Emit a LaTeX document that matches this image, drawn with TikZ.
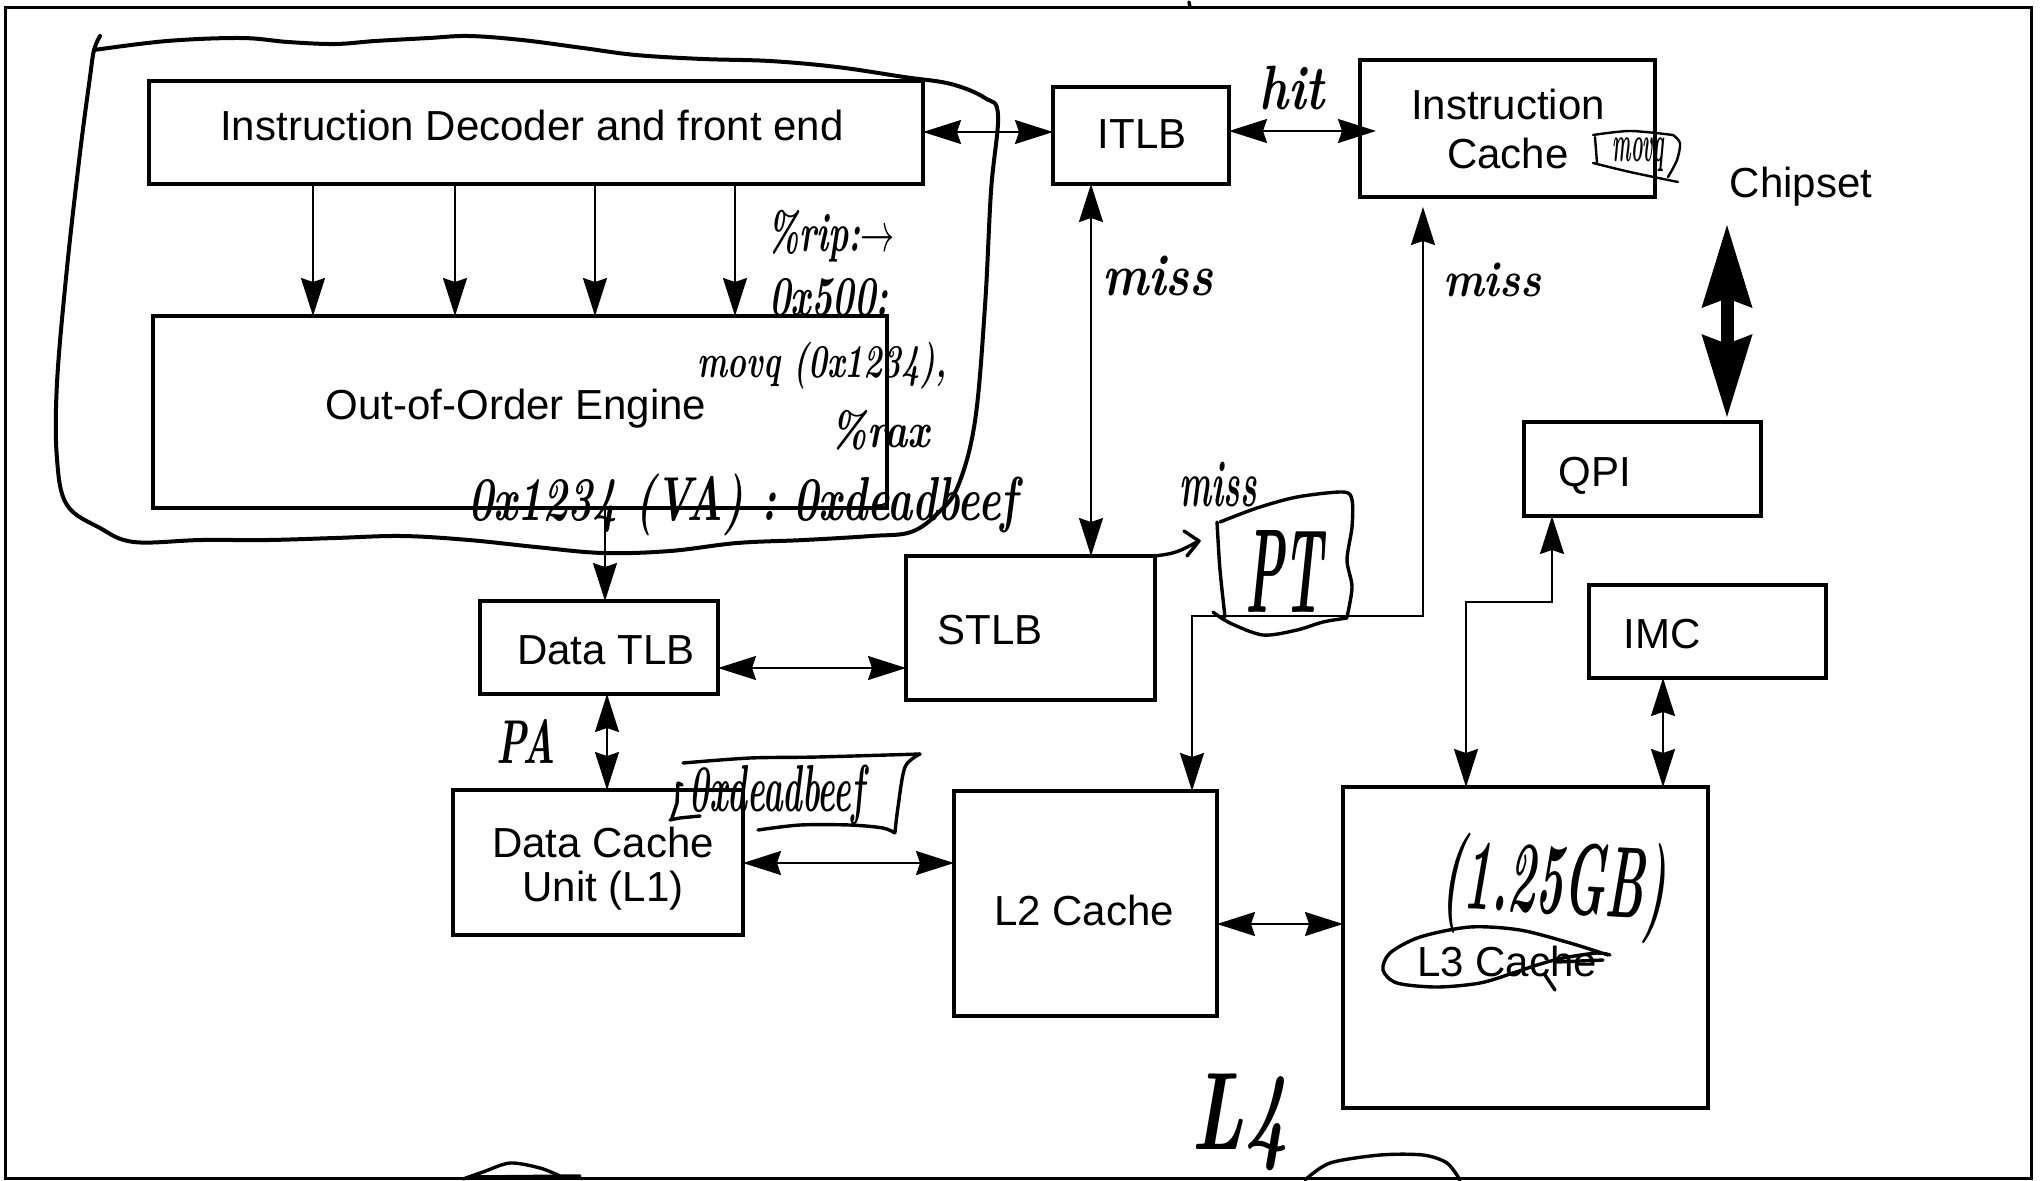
\documentclass[tikz,border=0pt]{standalone}
\usepackage{fontspec}
\newfontfamily\lblfamily{Liberation Sans}
\usetikzlibrary{arrows.meta}
\newcommand\hw[3]{\resizebox*{#1pt}{#2pt}{\normalfont\bfseries\itshape #3}}
\begin{document}
\begin{tikzpicture}[x=0.5pt, y=-0.5pt,
  box/.style={draw, line width=1.75pt, inner sep=0pt, outer sep=0pt},
  lbl/.style={font=\lblfamily\fontsize{21}{25}\selectfont, inner sep=0pt, anchor=base},
  tip/.tip={Stealth[length=19pt,width=12pt,inset=2pt]},
  arr/.style={line width=1pt, -tip},
  darr/.style={line width=1pt, tip-tip},
  bigarr/.style={line width=6.5pt, {Stealth[length=41pt,width=24pt,inset=4pt]}-{Stealth[length=41pt,width=24pt,inset=4pt]}},
  pen/.style={line width=1.7pt, line cap=round, line join=round},
  thinpen/.style={line width=1.2pt, line cap=round, line join=round},
  hand/.style={inner sep=0pt, outer sep=0pt}
]
\useasboundingbox (0,0) rectangle (2040,1180);
\fill[white] (0,0) rectangle (2040,1180);
% frame
\draw[line width=1.5pt] (5,7) rectangle (2031,1178);
\draw[pen] (1189,2) -- (1190,7);

% boxes
\node[box, minimum width=387pt, minimum height=51.5pt] (dec) at (536,132.5) {};
\node[box, minimum width=367pt, minimum height=96pt] (ooo) at (520,412) {};
\node[box, minimum width=119pt, minimum height=46.5pt] (dtlb) at (599,647.5) {};
\node[box, minimum width=124.5pt, minimum height=72pt] (stlb) at (1030.5,628) {};
\node[box, minimum width=145pt, minimum height=72.5pt] (dcu) at (598,862.5) {};
\node[box, minimum width=131.5pt, minimum height=112.5pt] (l2) at (1085.5,903.5) {};
\node[box, minimum width=182.5pt, minimum height=160.5pt] (l3) at (1525.5,947.5) {};
\node[box, minimum width=88pt, minimum height=48.5pt] (itlb) at (1141,135.5) {};
\node[box, minimum width=147.5pt, minimum height=68.5pt] (ic) at (1507.5,128.5) {};
\node[box, minimum width=118.5pt, minimum height=47pt] (qpi) at (1642.5,469) {};
\node[box, minimum width=118.5pt, minimum height=46.5pt] (imc) at (1707.5,631.5) {};

% labels
\node[lbl] (tdec) at (532,140) {Instruction Decoder and front end};
\node[lbl] (tooo) at (516,419) {Out-of-Order Engine};
\node[lbl] (titlb) at (1142,148) {ITLB};
\node[lbl] (tic1) at (1508,119) {Instruction};
\node[lbl] (tic2) at (1508,168) {Cache};
\node[lbl] (chip) at (1801,197) {Chipset};
\node[lbl] (tqpi) at (1595,486) {QPI};
\node[lbl] (tdtlb) at (606,664) {Data TLB};
\node[lbl] (tstlb) at (990,644) {STLB};
\node[lbl] (tdcu1) at (603,857) {Data Cache};
\node[lbl] (tdcu2) at (603,901) {Unit (L1)};
\node[lbl] (tl2) at (1084,925) {L2 Cache};
\node[lbl] (tl3) at (1507,976) {L3 Cache};
\node[lbl] (timc) at (1662,648) {IMC};

% connectors
\foreach \xx in {313,455,595,735}
  \draw[arr] (dec.south -| \xx,0) -- (ooo.north -| \xx,0);
\draw[arr] (ooo.south -| 605,0) -- (dtlb.north -| 605,0);
\draw[darr] (dec.east |- 0,132) -- (itlb.west |- 0,132);
\draw[darr, shorten >=-8pt] (itlb.east |- 0,131) -- (ic.west |- 0,131);
\draw[darr] (itlb.south -| 1091,0) -- (stlb.north -| 1091,0);
\draw[darr] (dtlb.east |- 0,668) -- (stlb.west |- 0,668);
\draw[darr] (dtlb.south -| 607,0) -- (dcu.north -| 607,0);
\draw[darr] (dcu.east |- 0,863) -- (l2.west |- 0,863);
\draw[darr] (l2.east |- 0,924) -- (l3.west |- 0,924);
\draw[darr, shorten <=5pt] (ic.south -| 1423,0) |- (1192,616) -- (l2.north -| 1192,0);
\draw[darr] (qpi.south -| 1552,0) |- (1466,602) -- (l3.north -| 1466,0);
\draw[darr] (imc.south -| 1663,0) -- (l3.north -| 1663,0);
\draw[bigarr, shorten <=9pt, shorten >=2pt] (chip.south -| 1727,0) -- (qpi.north -| 1727,0);

% handwritten loop round the front end
\draw[pen, line width=2pt] plot[smooth, tension=0.6] coordinates {(94,50) (167,41) (241,38) (288,42) (335,44) (375,41) (429,38) (469,36) (522,40) (583,48) (636,55) (703,59) (770,61) (837,67) (904,77) (951,84) (985,98) (998,115) (991,191) (985,306) (975,421) (958,486) (938,513) (911,532) (871,536) (804,540) (737,543) (670,551) (603,553) (536,547) (469,540) (402,536) (335,538) (268,540) (201,540) (134,542) (100,528) (67,505) (57,459) (57,383) (67,268) (80,153) (90,77) (94,50) (100,36)};

% handwritten texts
\node[hand] (hhit) at (1292,88) {\hw{32.5}{22}{hit}};
\node[hand] (hmiss1) at (1158,276) {\hw{55.5}{20}{miss}};
\node[hand] (hmiss2) at (1492,280) {\hw{49}{17}{miss}};
\node[hand] (hmiss3) at (1218,485) {\hw{38.5}{22.5}{miss}};
\node[hand] (hrip) at (831,236) {\hw{64}{26}{\%rip:$\rightarrow$}};
\node[hand] (h500) at (829,297) {\hw{59.5}{19}{0x500:}};
\node[hand] (hmovq) at (822,366) {\hw{124.5}{23.5}{movq (0x1234),}};
\node[hand] (hrax) at (880,430) {\hw{50}{20}{\%rax}};
\node[hand] (hva) at (743,505) {\hw{274.5}{31}{0x1234 (VA) : 0xdeadbeef}};
\node[hand] (hpa) at (526,741) {\hw{30}{22}{PA}};
\node[hand] (hdb) at (777,795) {\hw{87.5}{30}{0xdeadbeef}};
\node[hand] (hmq) at (1638,155) {\hw{25.5}{17}{movq}};
\node[hand] (pt) at (1284,571) {\hw{39}{41}{PT}};
\node[hand, rotate=-3] (hgb) at (1554,888) {\hw{112.5}{50.5}{(1.25GB)}};
\node[hand] (hl4) at (1240,1122) {\hw{48.5}{48.5}{L4}};

% PT outline
\draw[pen] plot[smooth] coordinates {(1217,522) (1220,570) (1225,617)};
\draw[pen] plot[smooth] coordinates {(1220,522) (1257,508) (1297,497) (1343,492) (1352,500) (1352,527) (1347,560) (1352,587) (1347,617)};
\draw[pen] plot[smooth] coordinates {(1213,612) (1230,623) (1263,635) (1297,630) (1323,622) (1347,618)};
% STLB -> PT hand arrow
\draw[pen] (stlb.north east) .. controls (1176,553) .. (1199,541);
\draw[pen] (1184,531) -- (1199,541) -- (1187,556);

% small movq box
\draw[thinpen] plot[smooth] coordinates {(1593,135) (1630,131) (1673,135)};
\draw[thinpen] plot[smooth] coordinates {(1673,135) (1680,143) (1677,160) (1668,177)};
\draw[thinpen] (1595,137) -- (1597,163);
\draw[thinpen] plot[smooth] coordinates {(1593,163) (1630,172) (1678,182)};

% 0xdeadbeef box
\draw[pen] plot[smooth] coordinates {(683,763) (750,758) (817,757) (920,754)};
\draw[pen] plot[smooth] coordinates {(920,754) (905,767) (898,807) (895,832)};
\draw[pen] plot[smooth] coordinates {(758,830) (800,825) (850,825) (883,828) (895,833)};
\draw[pen] (682,785) -- (678,783) -- (677,803) -- (672,818);
\draw[pen] plot[smooth] coordinates {(670,820) (680,818) (700,816)};

% L3 cache loop and strike
\draw[pen] plot[smooth] coordinates {(1608,955) (1570,943) (1520,930) (1470,927) (1420,937) (1390,953) (1383,970) (1397,983) (1437,987) (1480,983) (1513,973) (1537,965) (1563,958) (1597,953) (1610,955)};
\draw[pen] (1557,962) -- (1603,960);
\draw[pen] (1545,975) -- (1555,990);

% partial strokes at the bottom edge
\draw[pen] plot[smooth] coordinates {(463,1179) (483,1172) (510,1163) (540,1168) (560,1176)};
\draw[pen] (470,1177) -- (580,1176);
\draw[pen] plot[smooth] coordinates {(1305,1180) (1330,1163) (1380,1155) (1423,1155) (1447,1163) (1460,1180)};
\end{tikzpicture}
\end{document}
